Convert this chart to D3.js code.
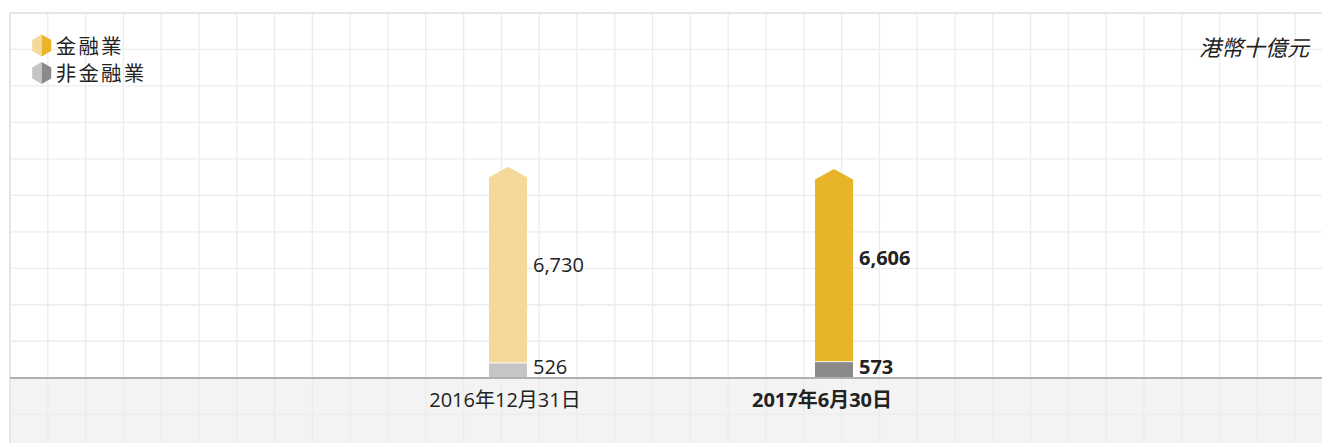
<!DOCTYPE html>
<html>
<head>
<meta charset="utf-8">
<script src="https://cdn.jsdelivr.net/npm/d3@7"></script>
<style>
  body { margin: 0; background: #fff; }
  svg { display: block; font-family: "Open Sans", "Noto Sans CJK TC", sans-serif; }
</style>
</head>
<body>
<div id="chart"></div>
<script>
// data
var categories = ['2016年12月31日', '2017年6月30日'];
var financial = [6730, 6606];
var nonFinancial = [526, 573];
var highlight = [false, true];
var seriesNames = ['金融業', '非金融業'];
var unitLabel = '港幣十億元';

// colours: [light, dark] per series
var goldColours = ['#f5d99b', '#e8b52a'];
var greyColours = ['#c5c5c5', '#8a8a8a'];

var width = 1322, height = 443;
var plot = {left: 10, top: 13, right: 1322, axis: 378, bottom: 443};
var barWidth = 38;
var capHeight = 10.5;
var gridStepX = 37.8, gridStepY = 36.47;

var svg = d3.select('#chart').append('svg')
  .attr('width', width)
  .attr('height', height);

// backgrounds
svg.append('rect')
  .attr('x', plot.left).attr('y', plot.top)
  .attr('width', plot.right - plot.left).attr('height', plot.axis - plot.top)
  .attr('fill', '#fff');
svg.append('rect')
  .attr('x', plot.left).attr('y', plot.axis)
  .attr('width', plot.right - plot.left).attr('height', plot.bottom - plot.axis)
  .attr('fill', '#f3f3f3');

// grid
var grid = svg.append('g').attr('class', 'grid')
  .attr('stroke', '#ececec').attr('stroke-width', 1.3);
grid.selectAll('line.v')
  .data(d3.range(plot.left + gridStepX, plot.right, gridStepX))
  .join('line')
  .attr('class', 'v')
  .attr('x1', d => d).attr('x2', d => d)
  .attr('y1', plot.top).attr('y2', plot.bottom);
grid.selectAll('line.h')
  .data(d3.range(plot.top + gridStepY, plot.bottom, gridStepY).filter(d => Math.abs(d - plot.axis) > 2))
  .join('line')
  .attr('class', 'h')
  .attr('x1', plot.left).attr('x2', plot.right)
  .attr('y1', d => d).attr('y2', d => d);
// top and left border
svg.append('line')
  .attr('x1', plot.left).attr('x2', plot.right)
  .attr('y1', plot.top).attr('y2', plot.top)
  .attr('stroke', '#e6e6e6').attr('stroke-width', 2);
svg.append('line')
  .attr('x1', plot.left).attr('x2', plot.left)
  .attr('y1', plot.top).attr('y2', plot.bottom)
  .attr('stroke', '#e6e6e6').attr('stroke-width', 2);

// scales
var x = d3.scalePoint()
  .domain(categories)
  .range([508, 834]);
var y = d3.scaleLinear()
  .domain([0, 13200])
  .range([plot.axis, plot.top]);

var rows = categories.map(function(c, i) {
  return {cat: c, fin: financial[i], non: nonFinancial[i], hi: highlight[i], i: i};
});

var bars = svg.append('g').attr('class', 'bars')
  .selectAll('g.bar')
  .data(rows)
  .join('g')
  .attr('class', 'bar')
  .attr('transform', d => 'translate(' + (x(d.cat) - barWidth / 2) + ',0)');

// non-financial (bottom)
bars.append('rect')
  .attr('x', 0)
  .attr('y', d => y(d.non))
  .attr('width', barWidth)
  .attr('height', d => y(0) - y(d.non))
  .attr('fill', d => greyColours[d.hi ? 1 : 0]);

// financial (stacked, with arrow cap)
bars.append('path')
  .attr('d', function(d) {
    var top = y(d.non + d.fin);
    var bottom = y(d.non) - 1;
    return 'M0,' + bottom + 'L0,' + top + 'L' + (barWidth / 2) + ',' + (top - capHeight) +
      'L' + barWidth + ',' + top + 'L' + barWidth + ',' + bottom + 'Z';
  })
  .attr('fill', d => goldColours[d.hi ? 1 : 0]);

// value labels
bars.append('text')
  .attr('x', barWidth + 6)
  .attr('y', d => y(d.non + d.fin / 2) - (d.hi ? 13 : 6))
  .attr('dominant-baseline', 'central')
  .attr('font-size', 20)
  .attr('font-weight', d => d.hi ? 'bold' : 'normal')
  .attr('fill', '#222')
  .text(d => d3.format(',')(d.fin));
bars.append('text')
  .attr('x', barWidth + 6)
  .attr('y', d => y(d.non / 2) - 4)
  .attr('dominant-baseline', 'central')
  .attr('font-size', 20)
  .attr('font-weight', d => d.hi ? 'bold' : 'normal')
  .attr('fill', '#222')
  .text(d => d3.format(',')(d.non));

// axis line
svg.append('line')
  .attr('x1', plot.left).attr('x2', plot.right)
  .attr('y1', plot.axis).attr('y2', plot.axis)
  .attr('stroke', '#b0b0b0').attr('stroke-width', 2);

// category labels
svg.append('g').attr('class', 'x-labels')
  .selectAll('text')
  .data(rows)
  .join('text')
  .attr('x', d => x(d.cat) - (d.hi ? 12 : 3))
  .attr('y', 399)
  .attr('text-anchor', 'middle')
  .attr('dominant-baseline', 'central')
  .attr('font-size', 20)
  .attr('font-weight', d => d.hi ? 'bold' : 'normal')
  .attr('fill', '#222')
  .text(d => d.cat);

// legend
function hexHalf(r, side) {
  // pointy-top hexagon, left (-1) or right (+1) half
  var w = r * Math.sqrt(3) / 2;
  return 'M0,' + (-r) + 'L' + (side * w) + ',' + (-r / 2) + 'L' + (side * w) + ',' + (r / 2) + 'L0,' + r + 'Z';
}
var legend = svg.append('g').attr('class', 'legend')
  .attr('transform', 'translate(41.7,45.5)')
  .selectAll('g')
  .data(seriesNames)
  .join('g')
  .attr('transform', (d, i) => 'translate(0,' + (i * 27.5) + ')');
var legendColours = [goldColours, greyColours];
legend.append('path')
  .attr('d', hexHalf(11, -1))
  .attr('fill', (d, i) => legendColours[i][0]);
legend.append('path')
  .attr('d', hexHalf(11, 1))
  .attr('fill', (d, i) => legendColours[i][1]);
legend.append('text')
  .attr('x', 14)
  .attr('dominant-baseline', 'central')
  .attr('font-size', 20.5)
  .attr('letter-spacing', 2.2)
  .attr('fill', '#222')
  .text(d => d);

// unit label
svg.append('text')
  .attr('x', 1309)
  .attr('y', 47)
  .attr('text-anchor', 'end')
  .attr('dominant-baseline', 'central')
  .attr('font-size', 22)
  .attr('font-style', 'italic')
  .attr('fill', '#222')
  .text(unitLabel);
</script>
</body>
</html>
